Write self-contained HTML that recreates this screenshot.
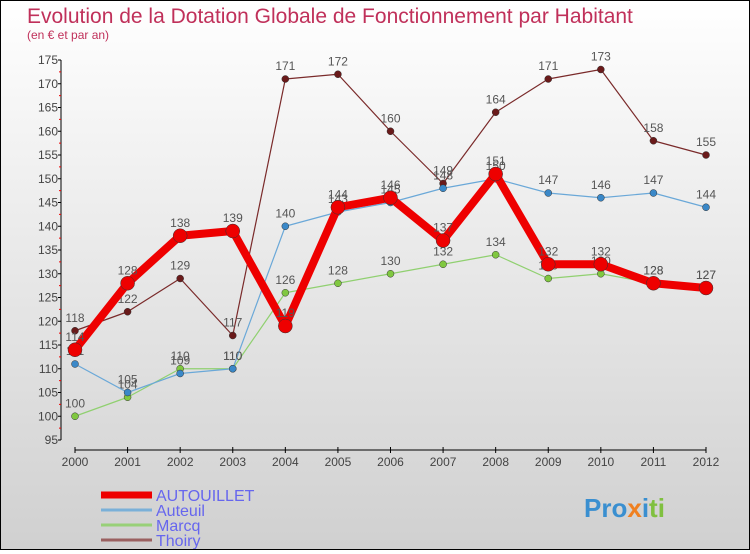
<!DOCTYPE html>
<html><head><meta charset="utf-8"><style>
html,body{margin:0;padding:0}
body{width:750px;height:550px;overflow:hidden;font-family:"Liberation Sans",sans-serif}
#wrap{position:relative;width:748px;height:548px;border:1px solid #000;background:linear-gradient(#fff 0%,#f3f3f3 25%,#d0d0d0 100%)}
</style></head><body>
<div id="wrap">
<svg id="chart" width="748" height="548">
<text x="26" y="22" font-size="21" fill="#c0305a">Evolution de la Dotation Globale de Fonctionnement par Habitant</text>
<text x="26" y="38" font-size="12" fill="#c0305a">(en € et par an)</text>
<g id="axes"></g>
<g id="series"></g>
<g id="legend"></g>
<text x="583" y="516" font-size="26" font-weight="bold"><tspan fill="#3a8fd0">Pro</tspan><tspan fill="#f08020">x</tspan><tspan fill="#3a8fd0">i</tspan><tspan fill="#80c040">ti</tspan></text>
</svg>
</div>
<script>
const years=[2000,2001,2002,2003,2004,2005,2006,2007,2008,2009,2010,2011,2012];
const autouillet=[114,128,138,139,119,144,146,137,151,132,132,128,127];
const auteuil=[111,105,109,110,140,143,145,148,150,147,146,147,144];
const marcq=[100,104,110,110,126,128,130,132,134,129,130,128,127];
const thoiry=[118,122,129,117,171,172,160,149,164,171,173,158,155];
const yTicks=[95,100,105,110,115,120,125,130,135,140,145,150,155,160,165,170,175];
const NS="http://www.w3.org/2000/svg";
function X(i){return 74+i*(631/(years.length-1));}
function Y(v){return 439-(v-95)*4.75;}
function mk(tag,attrs,parent){const e=document.createElementNS(NS,tag);for(const k in attrs)e.setAttribute(k,attrs[k]);parent.appendChild(e);return e;}
const axes=document.getElementById('axes');
let a=mk('line',{x1:60,y1:Y(175),x2:60,y2:Y(95),stroke:'#000'},axes);


a=mk('line',{x1:74,y1:449,x2:X(12),y2:449,stroke:'#000'},axes);


yTicks.forEach(v=>{
 mk('line',{x1:57,y1:Y(v),x2:60,y2:Y(v),stroke:'#000'},axes);
 if(v<175)mk('line',{x1:58,y1:Y(v+2.5),x2:60,y2:Y(v+2.5),stroke:'#e00'},axes);
 const t=mk('text',{x:57,y:Y(v)+4,'font-size':12,'text-anchor':'end',fill:'#444'},axes);
 t.textContent=v;
 
 
});
years.forEach((y,i)=>{
 mk('line',{x1:X(i),y1:446,x2:X(i),y2:452,stroke:'#000'},axes);
 const t=mk('text',{x:X(i),y:465,'font-size':12,'text-anchor':'middle',fill:'#444'},axes);
 t.textContent=y;
 
 
});
const ser=document.getElementById('series');
function draw(data,color,dot,w,r,name){
 const g=mk('g',{},ser);
 
 
 const p=mk('polyline',{points:data.map((v,i)=>X(i)+','+Y(v)).join(' '),fill:'none',stroke:color,'stroke-width':w,'stroke-linejoin':'round'},g);
 
 
 data.forEach((v,i)=>{
  const c=mk('circle',{cx:X(i),cy:Y(v),r:r,fill:dot,stroke:'#333','stroke-width':0.5},g);
  
  
  const t=mk('text',{x:X(i),y:Y(v)-9,'font-size':12,'text-anchor':'middle',fill:'#555'},g);
  t.textContent=v;
  
  
 });
}
draw(thoiry,'#7a2a2a','#6a1a1a',1.2,3.5,'thoiry');
draw(marcq,'#90d070','#80c840',1.2,3.5,'marcq');
draw(auteuil,'#6aa8d8','#3a88c8',1.2,3.5,'auteuil');
draw(autouillet,'#e00','#e00',8,7,'autouillet');
const lg=document.getElementById('legend');
[['AUTOUILLET','#e00',7],['Auteuil','#7ab0d8',3],['Marcq','#98d078',3],['Thoiry','#9a6060',3]].forEach((d,i)=>{
 const y=494+i*15;
 const g=mk('g',{},lg);
 
 
 mk('line',{x1:100,y1:y,x2:151,y2:y,stroke:d[1],'stroke-width':d[2]},g);
 const t=mk('text',{x:155,y:y+6,'font-size':16,fill:'#6666ee'},g);
 t.textContent=d[0];
});
</script>
</body></html>
